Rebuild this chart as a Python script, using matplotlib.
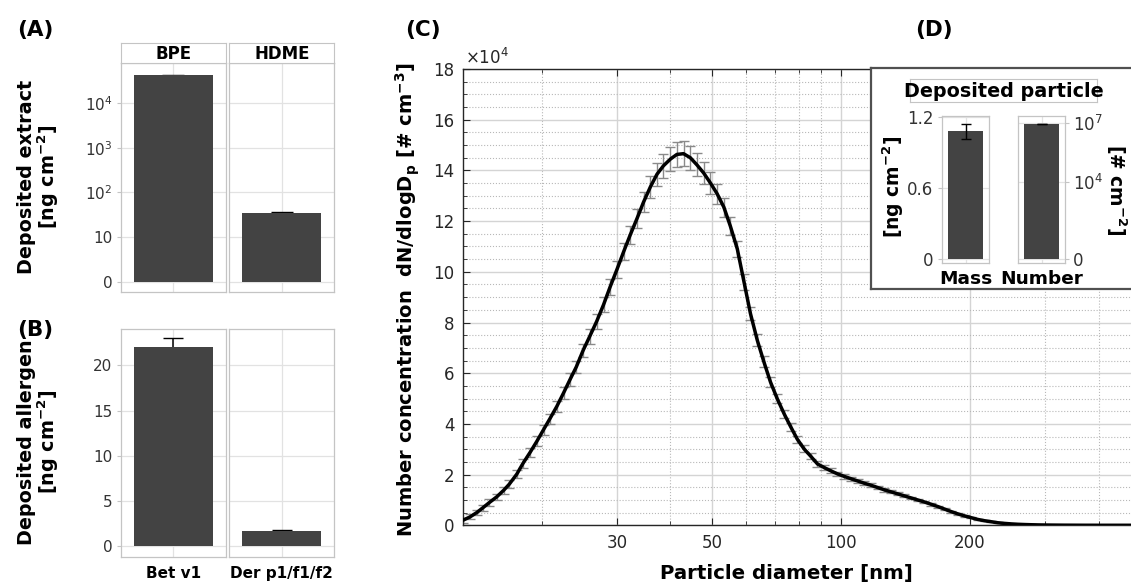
import matplotlib
matplotlib.use('Agg')
import matplotlib.pyplot as plt
from matplotlib.ticker import FixedLocator, NullLocator, NullFormatter

plt.rcParams['font.family'] = 'DejaVu Sans'
plt.rcParams['mathtext.fontset'] = 'dejavusans'

# panel A: deposited extract (log axis, "0" = 1)
extract_names = ['BPE', 'HDME']
extract_vals = [41400, 34.3]
extract_err = [1500, 2.0]

# panel B: deposited allergen
allergen_names = ['Bet v1', 'Der p1/f1/f2']
allergen_vals = [22.0, 1.66]
allergen_err = [1.0, 0.1]

# panel C: SMPS size distribution (x1e4 # cm-3)
diam = [13.1, 13.6, 14.1, 14.6, 15.1, 15.7, 16.3, 16.8, 17.5, 18.1,
        18.8, 19.5, 20.2, 20.9, 21.7, 22.5, 23.3, 24.1, 25.0, 25.9,
        26.9, 27.9, 28.9, 30.0, 31.1, 32.2, 33.4, 34.6, 35.9, 37.2,
        38.5, 40.0, 41.4, 42.9, 44.5, 46.1, 47.8, 49.6, 51.4, 53.3,
        55.2, 57.3, 59.4, 61.5, 63.8, 66.1, 68.5, 71.0, 73.7, 76.4,
        79.1, 82.0, 85.1, 88.2, 91.4, 94.7, 98.2, 101.8, 105.5, 109.4,
        113.4, 117.6, 121.9, 126.3, 131.0, 135.8, 140.7, 145.9, 151.2, 156.8,
        162.5, 168.5, 174.7, 181.1, 187.7, 194.6, 201.7, 209.1, 216.7, 224.7,
        232.9, 241.4, 250.3, 259.5, 269.0, 278.8, 289.0, 299.6, 310.6, 322.0,
        333.8, 346.0, 358.7, 371.8, 385.4, 399.5, 414.2, 429.4, 445.1, 461.4,
        478.3, 495.8]
conc = [0.20, 0.33, 0.50, 0.70, 0.90, 1.12, 1.38, 1.62, 2.02, 2.45,
        2.88, 3.32, 3.77, 4.20, 4.69, 5.22, 5.75, 6.25, 6.90, 7.45,
        8.05, 8.70, 9.40, 10.10, 10.80, 11.45, 12.10, 12.75, 13.35, 13.85,
        14.18, 14.45, 14.63, 14.66, 14.50, 14.22, 13.90, 13.50, 13.08, 12.55,
        11.80, 10.90, 9.60, 8.35, 7.30, 6.45, 5.65, 5.00, 4.40, 3.88,
        3.40, 3.02, 2.72, 2.42, 2.28, 2.15, 2.03, 1.93, 1.84, 1.75,
        1.66, 1.58, 1.49, 1.40, 1.32, 1.24, 1.16, 1.08, 1.00, 0.92,
        0.83, 0.74, 0.64, 0.54, 0.45, 0.37, 0.30, 0.23, 0.18, 0.14,
        0.10, 0.075, 0.055, 0.04, 0.03, 0.022, 0.016, 0.012, 0.009, 0.007,
        0.005, 0.004, 0.003, 0.002, 0.002, 0.001, 0.001, 0.001, 0.001, 0.001,
        0.001, 0.001]
conc_err = [0.10, 0.10, 0.11, 0.12, 0.12, 0.13, 0.14, 0.15, 0.16, 0.17,
            0.18, 0.19, 0.20, 0.21, 0.22, 0.23, 0.24, 0.25, 0.26, 0.28,
            0.29, 0.30, 0.32, 0.34, 0.35, 0.37, 0.39, 0.41, 0.43, 0.45,
            0.47, 0.48, 0.50, 0.50, 0.48, 0.46, 0.44, 0.42, 0.40, 0.38,
            0.36, 0.33, 0.30, 0.27, 0.24, 0.21, 0.19, 0.17, 0.16, 0.15,
            0.14, 0.13, 0.12, 0.11, 0.10, 0.10, 0.09, 0.09, 0.08, 0.08,
            0.08, 0.07, 0.07, 0.07, 0.06, 0.06, 0.06, 0.05, 0.05, 0.05,
            0.05, 0.04, 0.04, 0.04, 0.03, 0.03, 0.03, 0.02, 0.02, 0.02,
            0.02, 0.01, 0.01, 0.01, 0.01, 0.01, 0.005, 0.005, 0.005, 0.005,
            0.003, 0.003, 0.003, 0.003, 0.003, 0.003, 0.003, 0.003, 0.003, 0.003,
            0.003, 0.003]
x_major = [30, 50, 100, 200]
x_minor = [20, 40, 60, 70, 80, 90, 300, 400]

# panel D: deposited particle
mass_val, mass_err = 1.083, 0.063
number_val, number_err = 9.2e6, 3e5

W, H = 1131, 582
BAR = '#434343'
fig = plt.figure(figsize=(W / 100, H / 100), dpi=100)


def fax(x0, y0, x1, y1):
    # axes from pixel box (top-left origin)
    return fig.add_axes([x0 / W, 1 - y1 / H, (x1 - x0) / W, (y1 - y0) / H])


def gg_style(ax):
    ax.set_facecolor('white')
    for s in ax.spines.values():
        s.set_color('#c4c4c4')
        s.set_linewidth(0.9)
    ax.set_axisbelow(True)
    ax.grid(True, color='#e2e2e2', lw=0.9)
    ax.set_xlim(0.4, 1.6)
    ax.set_xticks([1])
    ax.tick_params(axis='y', length=3, color='#c4c4c4', labelsize=11, labelcolor='#333333', pad=3)
    ax.tick_params(axis='x', length=0)


def strip(x0, x1, y0, y1, label, size=12):
    s = fax(x0, y0, x1, y1)
    s.set_xticks([])
    s.set_yticks([])
    for sp in s.spines.values():
        sp.set_color('#c4c4c4')
    s.text(0.5, 0.45, label, ha='center', va='center', fontsize=size, fontweight='bold', transform=s.transAxes)
    return s


cols = [(120.7, 225.7), (229.3, 334.3)]

# ---- (A)
for i, (x0, x1) in enumerate(cols):
    ax = fax(x0, 63.3, x1, 292)
    gg_style(ax)
    ax.set_yscale('log')
    ax.errorbar([1], [extract_vals[i]], yerr=[extract_err[i]], fmt='none', ecolor='black',
                elinewidth=1.1, capsize=7.9, zorder=1)
    ax.bar([1], [extract_vals[i] - 1], bottom=1, width=0.9, color=BAR, zorder=2)
    ax.set_ylim(10 ** -0.23, 10 ** 4.89)
    ax.yaxis.set_major_locator(FixedLocator([1, 10, 100, 1000, 10000]))
    ax.yaxis.set_minor_locator(NullLocator())
    ax.set_yticklabels(['0', '10', '$10^2$', '$10^3$', '$10^4$'])
    ax.set_xticklabels([''])
    if i == 1:
        ax.tick_params(axis='y', length=0, labelleft=False)
    strip(x0, x1, 43.3, 63.3, extract_names[i])

# ---- (B)
for i, (x0, x1) in enumerate(cols):
    ax = fax(x0, 329.3, x1, 556.7)
    gg_style(ax)
    ax.errorbar([1], [allergen_vals[i]], yerr=[allergen_err[i]], fmt='none', ecolor='black',
                elinewidth=1.1, capsize=7.2, zorder=1)
    ax.bar([1], [allergen_vals[i]], width=0.9, color=BAR, zorder=2)
    ax.set_ylim(-1.16, 24.0)
    ax.set_yticks([0, 5, 10, 15, 20])
    ax.set_xticklabels([allergen_names[i]], fontsize=11, fontweight='bold')
    ax.tick_params(axis='x', pad=7)
    if i == 1:
        ax.tick_params(axis='y', length=0, labelleft=False)

fig.text(39 / W, 1 - 177 / H, 'Deposited extract\n[ng cm$^{\\mathbf{-2}}$]', rotation=90, ha='center',
         va='center', fontsize=13.8, fontweight='bold', linespacing=1.0)
fig.text(39 / W, 1 - 442 / H, 'Deposited allergen\n[ng cm$^{\\mathbf{-2}}$]', rotation=90, ha='center',
         va='center', fontsize=13.8, fontweight='bold', linespacing=1.0)

# ---- (C)
axc = fax(463, 69, 1140, 525.3)
axc.set_xscale('log')
axc.errorbar(diam, conc, yerr=conc_err, fmt='none', ecolor='#8a8a8a', elinewidth=1, capsize=3.8, zorder=2)
axc.plot(diam, conc, color='black', lw=2.5, zorder=3)
axc.set_xlim(13.1, 500)
axc.set_ylim(0, 18)
axc.xaxis.set_major_locator(FixedLocator(x_major))
axc.xaxis.set_minor_locator(FixedLocator(x_minor))
axc.xaxis.set_minor_formatter(NullFormatter())
axc.set_xticklabels([str(v) for v in x_major])
axc.set_yticks(range(0, 19, 2))
axc.set_yticklabels([str(v) for v in range(0, 19, 2)])
axc.yaxis.set_minor_locator(FixedLocator([v * 0.5 for v in range(37)]))
axc.grid(which='major', color='#d4d4d4', lw=1, ls='-')
axc.grid(which='minor', color='#b8b8b8', lw=0.8, ls=':')
axc.set_axisbelow(True)
axc.tick_params(which='both', direction='in', top=True, right=True, color='#262626', labelsize=12,
                labelcolor='#262626')
axc.tick_params(which='major', length=5, pad=6)
axc.tick_params(which='minor', length=3)
for s in axc.spines.values():
    s.set_color('#262626')
    s.set_linewidth(1)
fig.text(465 / W, 1 - 58 / H, r'$\times10^4$', fontsize=12, va='center', color='#262626')
fig.text(408 / W, 1 - 300 / H, 'Number concentration  dN/dlogD$_\\mathbf{p}$ [# cm$^{\\mathbf{-3}}$]',
         rotation=90, ha='center', va='center', fontsize=14, fontweight='bold')
fig.text(786 / W, 1 - 573 / H, 'Particle diameter [nm]', ha='center', va='center', fontsize=14.2,
         fontweight='bold')

# ---- (D) inset
box = fax(871, 68.3, 1137, 289.3)
box.set_xticks([])
box.set_yticks([])
box.set_facecolor('white')
for s in box.spines.values():
    s.set_color('#505050')
    s.set_linewidth(1.6)
box.set_zorder(5)

ts = strip(910, 1097, 79, 102, 'Deposited particle', size=13.8)
ts.set_zorder(6)

axm = fax(941.7, 116.1, 989.3, 262.9)
gg_style(axm)
axm.bar([1], [mass_val], width=0.9, color=BAR, zorder=2)
axm.errorbar([1], [mass_val], yerr=[mass_err], fmt='none', ecolor='black', elinewidth=1, capsize=3.5, zorder=3)
axm.set_ylim(-0.03, 1.21)
axm.set_yticks([0, 0.6, 1.2])
axm.set_yticklabels(['0', '0.6', '1.2'])
axm.tick_params(axis='y', labelsize=12)
axm.set_xticklabels(['Mass'], fontsize=13.3, fontweight='bold')
axm.tick_params(axis='x', pad=5)
axm.set_zorder(6)

axn = fax(1018, 116.1, 1065, 262.9)
gg_style(axn)
axn.set_yscale('log')
axn.bar([1], [number_val - 1], bottom=1, width=0.9, color=BAR, zorder=2)
axn.errorbar([1], [number_val], yerr=[number_err], fmt='none', ecolor='black', elinewidth=1, capsize=3.5, zorder=3)
axn.set_ylim(10 ** -0.185, 10 ** 7.37)
axn.yaxis.set_major_locator(FixedLocator([1, 1e4, 1e7]))
axn.yaxis.set_minor_locator(NullLocator())
axn.set_yticklabels(['0', '$10^4$', '$10^7$'])
axn.yaxis.tick_right()
axn.tick_params(axis='y', length=3, color='#c4c4c4', labelsize=12, labelcolor='#333333', pad=3)
axn.set_xticklabels(['Number'], fontsize=13.3, fontweight='bold')
axn.tick_params(axis='x', pad=5)
axn.set_zorder(6)

fig.text(893 / W, 1 - 187 / H, '[ng cm$^{\\mathbf{-2}}$]', rotation=90, ha='center', va='center',
         fontsize=13.5, fontweight='bold', zorder=7)
fig.text(1116 / W, 1 - 190 / H, '[# cm$^{\\mathbf{-2}}$]', rotation=270, ha='center', va='center',
         fontsize=13.5, fontweight='bold', zorder=7)

# panel letters
for lab, x, y in [('(A)', 17, 30), ('(B)', 17, 330), ('(C)', 405, 30), ('(D)', 915, 30)]:
    fig.text(x / W, 1 - y / H, lab, fontsize=15.5, fontweight='bold', va='center', ha='left')

fig.savefig('out.png', dpi=100)
